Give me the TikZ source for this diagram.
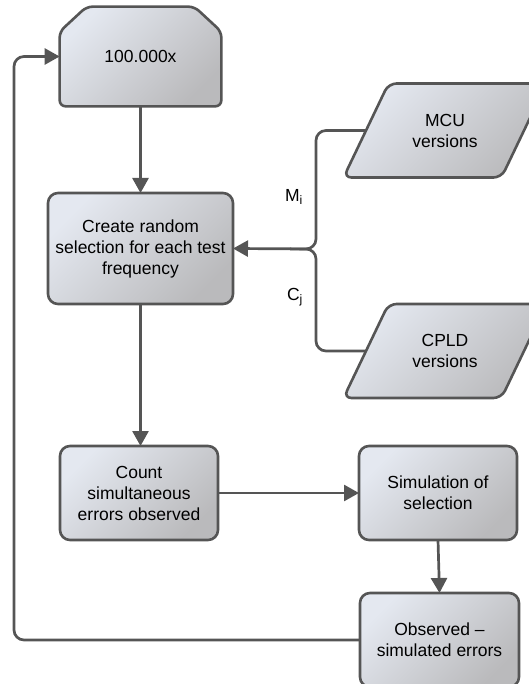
\documentclass[tikz,border=0pt]{standalone}
\usepackage{fontspec}
\setmainfont{Liberation Sans}
\usetikzlibrary{arrows.meta}
\definecolor{linegray}{RGB}{85,85,85}
\definecolor{boxlight}{RGB}{228,232,240}
\definecolor{boxdark}{RGB}{186,186,188}
\tikzset{
	flowbox/.style={draw=linegray,line width=2.6pt,rounded corners=10pt,
		top color=boxlight,bottom color=boxdark,shading angle=45,
		align=center,inner sep=0pt,outer sep=0pt},
	textbox/.style={align=center,inner sep=0pt,outer sep=0pt,text=black},
}
\def\pfeil#1#2{
	\draw[->] #1 -- #2;
}
% parallelogram round a named node
\def\datashape#1{
	\draw[flowbox,rounded corners=8pt] ([shift={(-101.5pt,-47pt)}]#1.center)
		-- ([shift={(56.5pt,-47pt)}]#1.center) -- ([shift={(101.5pt,47pt)}]#1.center)
		-- ([shift={(-56.5pt,47pt)}]#1.center) -- cycle;
}

\begin{document}
\begin{tikzpicture}[x=1pt,y=-1pt,>={Triangle[length=15pt,width=16pt]},
	line width=2.7pt,draw=linegray,color=linegray,
	font=\fontsize{17.5}{21}\selectfont]
\useasboundingbox (0,0) rectangle (528,684);
\coordinate (loopc) at (14,400);
\coordinate (join) at (316,249);
\coordinate (joinl) at (290,249);
% start box with cut top corners
\node[minimum width=159pt,minimum height=97pt,inner sep=0pt] (rep) at (140.5,56.5) {};
\draw[flowbox,rounded corners=6pt] ([yshift=-25pt]rep.north west) -- ([xshift=27pt]rep.north west)
	-- ([xshift=-27pt]rep.north east) -- ([yshift=-25pt]rep.north east)
	-- (rep.south east) -- (rep.south west) -- cycle;
\node[textbox] at (rep) {100.000x};
\node[flowbox,text=black,minimum width=185pt,minimum height=111pt] (create) at (140.5,248.5)
	{Create random\\selection for each test\\frequency};
\node[minimum width=158pt,minimum height=94pt,inner sep=0pt,outer sep=0pt] (mcu) at (445,130.5) {};
\datashape{mcu}
\node[textbox] at (mcu) {MCU\\versions};
\node[minimum width=158pt,minimum height=94pt,inner sep=0pt,outer sep=0pt] (cpld) at (445,351) {};
\datashape{cpld}
\node[textbox] at (cpld) {CPLD\\versions};
\node[flowbox,text=black,minimum width=158pt,minimum height=94pt] (count) at (139,493)
	{Count\\simultaneous\\errors observed};
\node[flowbox,text=black,minimum width=158pt,minimum height=94pt] (sim) at (438,493)
	{Simulation of\\selection};
\node[flowbox,text=black,minimum width=159pt,minimum height=94pt] (obs) at (439.5,640)
	{Observed --\\simulated errors};
\node[textbox] (mlab) at (294,197) {M\textsubscript{i}};
\node[textbox] (clab) at (295,297) {C\textsubscript{j}};
\pfeil{(rep.south)}{(create.north)}
\pfeil{(create.south)}{(create.south |- count.north)}
\pfeil{(count.east)}{(sim.west)}
\pfeil{(sim.south)}{(obs.north)}
\draw[->,rounded corners=10pt] (mcu.west) -| (join) -- (create.east);
\draw[rounded corners=10pt] (cpld.west) -| (join) -- (joinl);
\draw[->,rounded corners=10pt] (obs.west) -| (loopc) |- (rep.west);
\end{tikzpicture}
\end{document}
